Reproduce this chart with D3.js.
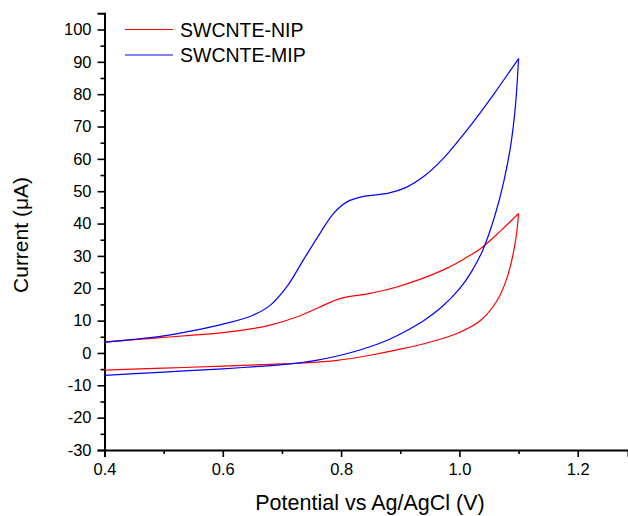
<!DOCTYPE html>
<html lang="en">

<head>
    <meta charset="UTF-8">
    <title>Cyclic voltammetry SWCNTE</title>
    <script type="text/javascript" src="https://cdnjs.cloudflare.com/ajax/libs/d3/7.8.5/d3.min.js"></script>
    <style>
        body { margin: 0; background: #fff; }
        svg { display: block; font-family: "Liberation Sans", Arial, sans-serif; }
    </style>
</head>

<body>
    <div id="draw-here"></div>

    <script>
        // Size of Chart
        var w = 628;
        var h = 516;

        // Series names
        var seriesNames = ["SWCNTE-NIP", "SWCNTE-MIP"];

        // SWCNTE-NIP, forward (anodic) scan
        var nipForwardE = [0.40, 0.45, 0.50, 0.55, 0.60, 0.65, 0.68, 0.725, 0.764, 0.798, 0.849, 0.894, 0.951, 0.98, 1.007, 1.036, 1.07, 1.10];
        var nipForwardI = [3.4, 4.1, 4.8, 5.5, 6.3, 7.5, 8.6, 11.1, 14.2, 16.8, 18.4, 20.4, 24.0, 26.3, 29.0, 32.3, 37.8, 43.1];
        // SWCNTE-NIP, reverse scan
        var nipReverseE = [1.10, 1.095, 1.081, 1.064, 1.036, 0.996, 0.951, 0.906, 0.849, 0.793, 0.736, 0.68, 0.60, 0.50, 0.40];
        var nipReverseI = [43.1, 34.8, 23.5, 16.3, 10.1, 6.0, 3.4, 1.4, -0.7, -2.3, -3.1, -3.5, -4.1, -4.7, -5.3];

        // SWCNTE-MIP, forward (anodic) scan
        var mipForwardE = [0.40, 0.45, 0.50, 0.55, 0.60, 0.65, 0.68, 0.708, 0.736, 0.764, 0.787, 0.81, 0.838, 0.88, 0.91, 0.94, 0.97, 1.00, 1.03, 1.06, 1.10];
        var mipForwardI = [3.3, 4.2, 5.3, 6.9, 8.9, 11.6, 14.7, 20.4, 28.7, 36.9, 43.1, 46.7, 48.4, 49.4, 51.2, 54.6, 59.6, 66.0, 73.0, 80.5, 91.0];
        // SWCNTE-MIP, reverse scan
        var mipReverseE = [1.10, 1.095, 1.087, 1.075, 1.06, 1.04, 1.02, 1.00, 0.97, 0.94, 0.91, 0.88, 0.85, 0.82, 0.79, 0.76, 0.736, 0.70, 0.65, 0.60, 0.50, 0.40];
        var mipReverseI = [91.0, 77.0, 64.5, 53.0, 42.5, 32.0, 25.0, 19.8, 14.2, 10.0, 6.8, 4.1, 2.0, 0.3, -1.1, -2.2, -2.9, -3.6, -4.3, -4.9, -5.9, -6.9];

        // Tick values
        var xTicks = [0.4, 0.6, 0.8, 1.0, 1.2];
        var xMinorTicks = [0.5, 0.7, 0.9, 1.1];
        var yTicks = [-30, -20, -10, 0, 10, 20, 30, 40, 50, 60, 70, 80, 90, 100];
        var yMinorTicks = [-25, -15, -5, 5, 15, 25, 35, 45, 55, 65, 75, 85, 95];

        var colors = ["#ff0000", "#0000ff"];

        // Scales
        var x = d3.scaleLinear().domain([0.4, 1.285]).range([104.5, 628]);
        var y = d3.scaleLinear().domain([-30, 105]).range([450, 13.3]);

        var svg = d3.select("#draw-here")
            .append("svg")
            .attr("width", w)
            .attr("height", h);

        // Axes (major + minor ticks, outward)
        svg.append("g")
            .attr("transform", "translate(0," + y(-30) + ")")
            .call(d3.axisBottom(x).tickValues(xTicks).tickSize(7).tickPadding(6)
                .tickFormat(function(d) { return d.toFixed(1); }));
        svg.append("g")
            .attr("transform", "translate(0," + y(-30) + ")")
            .call(d3.axisBottom(x).tickValues(xMinorTicks).tickSize(4).tickFormat(""))
            .select(".domain").remove();

        svg.append("g")
            .attr("transform", "translate(" + x(0.4) + ",0)")
            .call(d3.axisLeft(y).tickValues(yTicks).tickSize(7).tickPadding(6)
                .tickFormat(function(d) { return String(d); }));
        svg.append("g")
            .attr("transform", "translate(" + x(0.4) + ",0)")
            .call(d3.axisLeft(y).tickValues(yMinorTicks).tickSize(4).tickFormat(""))
            .select(".domain").remove();

        svg.selectAll(".domain").attr("stroke", "#000").attr("stroke-width", 2);
        svg.selectAll(".tick line").attr("stroke", "#000").attr("stroke-width", 1.6);
        svg.selectAll(".tick text")
            .attr("font-family", "'Liberation Sans', Arial, sans-serif")
            .attr("font-size", "16.5px")
            .attr("fill", "#000");

        // Axis titles
        svg.append("text")
            .attr("x", 370)
            .attr("y", 510)
            .attr("text-anchor", "middle")
            .attr("font-size", "21.5px")
            .text("Potential vs Ag/AgCl (V)");

        svg.append("text")
            .attr("transform", "translate(27.5,235) rotate(-90)")
            .attr("text-anchor", "middle")
            .attr("font-size", "21px")
            .text("Current (μA)");

        // Curves
        var line = d3.line()
            .x(function(d) { return x(d[0]); })
            .y(function(d) { return y(d[1]); })
            .curve(d3.curveCatmullRom.alpha(0.5));

        function draw_branch(es, is, color) {
            var pts = es.map(function(e, i) { return [e, is[i]]; });
            svg.append("path")
                .datum(pts)
                .attr("d", line)
                .attr("fill", "none")
                .attr("stroke", color)
                .attr("stroke-width", 1.2);
        }

        draw_branch(nipForwardE, nipForwardI, colors[0]);
        draw_branch(nipReverseE, nipReverseI, colors[0]);
        draw_branch(mipForwardE, mipForwardI, colors[1]);
        draw_branch(mipReverseE, mipReverseI, colors[1]);

        // Legend
        var legend = svg.append("g");
        seriesNames.forEach(function(name, i) {
            var ly = 29.5 + i * 25.5;
            legend.append("line")
                .attr("x1", 125).attr("x2", 173)
                .attr("y1", ly).attr("y2", ly)
                .attr("stroke", colors[i])
                .attr("stroke-width", 1.2);
            legend.append("text")
                .attr("x", 180)
                .attr("y", ly + 7)
                .attr("font-size", "19.5px")
                .text(name);
        });
    </script>
</body>

</html>
